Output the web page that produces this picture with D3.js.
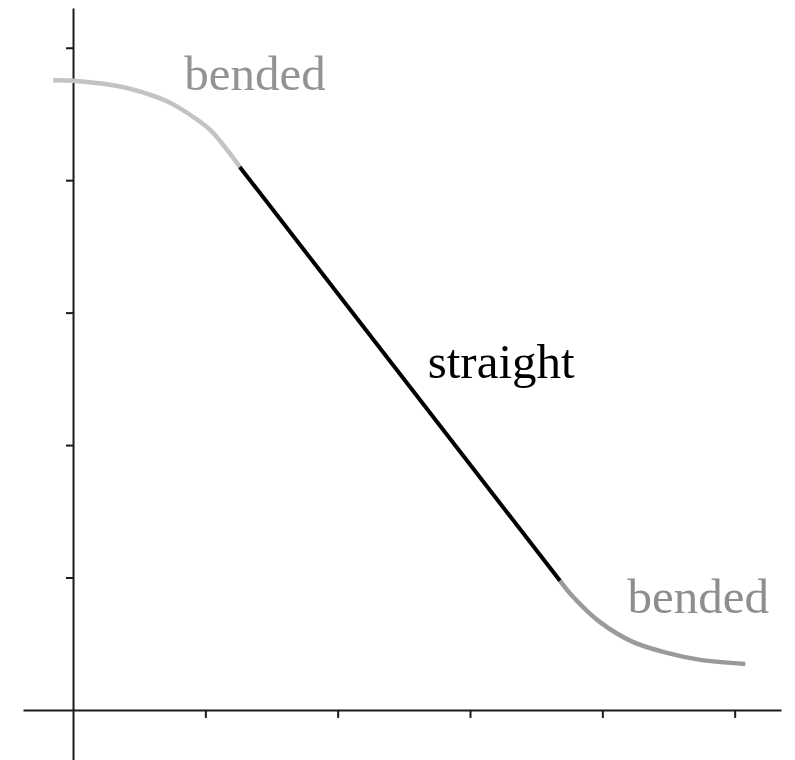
<!DOCTYPE html>
<html>
<head>
<meta charset="utf-8">
<script src="https://cdn.jsdelivr.net/npm/d3@7"></script>
<style>
    body { margin: 0; background: #fff; }
    .axis path, .axis line { stroke: #1a1a1a; stroke-width: 2; }
    .lbl { font-family: "Liberation Serif", "Times New Roman", serif; font-size: 49px; }
</style>
</head>
<body>
<div id="chart"></div>
<script>
var width = 795
var height = 760

// tick positions (no labels in the picture)
var xTicks = [1, 2, 3, 4, 5]
var yTicks = [1, 2, 3, 4, 5]

// curve pieces in axis units
var bendTop = [[-0.15, 4.754], [0, 4.751], [0.128, 4.739], [0.279, 4.721], [0.43, 4.69],
    [0.582, 4.645], [0.733, 4.585], [0.884, 4.494], [1.035, 4.381], [1.26, 4.1]]
var straight = [[1.26, 4.1], [3.68, 0.975]]
var bendBottom = [[3.68, 0.975], [3.78, 0.853], [3.98, 0.665], [4.23, 0.514], [4.49, 0.431], [4.74, 0.378], [5.08, 0.347]]

var labels = [
    { text: 'bended', x: 0.84, y: 4.68, color: '#939393' },
    { text: 'straight', x: 2.68, y: 2.51, color: '#000' },
    { text: 'bended', x: 4.19, y: 0.73, color: '#8e8e8e' }
]

var svg = d3.select('#chart')
    .append('svg')
    .attr('width', width)
    .attr('height', height)

var x = d3.scaleLinear()
    .domain([-0.378, 5.35])
    .range([23, 781])

var y = d3.scaleLinear()
    .domain([-0.378, 5.30])
    .range([760, 8])

// axes cross at the origin
svg.append('g')
    .attr('class', 'axis')
    .attr('transform', 'translate(0,' + y(0) + ')')
    .call(d3.axisBottom(x).tickValues(xTicks).tickSizeInner(8).tickSizeOuter(0).tickFormat(''))

svg.append('g')
    .attr('class', 'axis')
    .attr('transform', 'translate(' + x(0) + ',0)')
    .call(d3.axisLeft(y).tickValues(yTicks).tickSizeInner(7).tickSizeOuter(0).tickFormat(''))

var line = d3.line()
    .x(function (d) { return x(d[0]) })
    .y(function (d) { return y(d[1]) })
    .curve(d3.curveCatmullRom.alpha(0.5))

var pieces = [
    { data: bendTop, color: '#c3c3c3', w: 4.5 },
    { data: bendBottom, color: '#9a9a9a', w: 4.5 },
    { data: straight, color: '#000', w: 4 }
]

pieces.forEach(function (p) {
    svg.append('path')
        .datum(p.data)
        .attr('fill', 'none')
        .attr('stroke', p.color)
        .attr('stroke-width', p.w)
        .attr('d', line)
})

svg.selectAll('.lbl')
    .data(labels)
    .enter().append('text')
    .attr('class', 'lbl')
    .attr('x', function (d) { return x(d.x) })
    .attr('y', function (d) { return y(d.y) })
    .style('fill', function (d) { return d.color })
    .text(function (d) { return d.text })
</script>
</body>
</html>
